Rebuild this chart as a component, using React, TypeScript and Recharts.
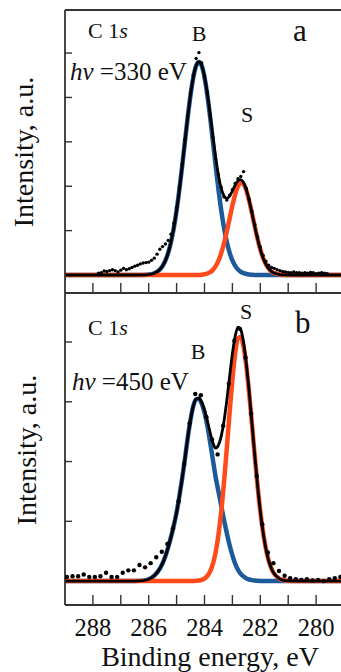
import React from 'react';
import { ComposedChart, Line, Scatter, XAxis, YAxis, ReferenceLine } from 'recharts';

// binding energy grid (eV) of the fitted curves, high -> low
const energies = [
  289.0, 288.5, 288.0, 287.5, 287.0, 286.5, 286.2, 286.0, 285.8, 285.6,
  285.5, 285.4, 285.3, 285.2, 285.1, 285.0, 284.9, 284.8, 284.7, 284.6,
  284.5, 284.4, 284.3, 284.2, 284.1, 284.0, 283.9, 283.8, 283.7, 283.6,
  283.5, 283.4, 283.3, 283.2, 283.1, 283.0, 282.9, 282.8, 282.7, 282.6,
  282.5, 282.4, 282.3, 282.2, 282.1, 282.0, 281.9, 281.8, 281.7, 281.6,
  281.5, 281.3, 281.1, 280.9, 280.6, 280.3, 280.0, 279.5, 279.0,
];

// panel a, hv = 330 eV
const bulkA = [
  0, 0, 0, 0, 0, 0, 0.003, 0.011, 0.041, 0.125,
  0.206, 0.328, 0.504, 0.745, 1.062, 1.457, 1.927, 2.455, 3.013, 3.563,
  4.059, 4.455, 4.712, 4.8, 4.712, 4.455, 4.059, 3.563, 3.013, 2.455,
  1.927, 1.457, 1.062, 0.745, 0.504, 0.328, 0.206, 0.125, 0.073, 0.041,
  0.022, 0.011, 0.006, 0.003, 0.001, 0, 0, 0, 0, 0,
  0, 0, 0, 0, 0, 0, 0, 0, 0,
];
const surfA = [
  0, 0, 0, 0, 0, 0, 0, 0, 0, 0,
  0, 0, 0, 0, 0, 0, 0, 0, 0, 0,
  0, 0, 0.001, 0.003, 0.008, 0.017, 0.034, 0.064, 0.116, 0.199,
  0.323, 0.494, 0.717, 0.983, 1.275, 1.566, 1.819, 1.999, 2.078, 2.043,
  1.901, 1.674, 1.394, 1.098, 0.818, 0.577, 0.385, 0.243, 0.145, 0.082,
  0.044, 0.011, 0.002, 0, 0, 0, 0, 0, 0,
];
const fitA = [
  0, 0, 0, 0, 0, 0, 0.003, 0.011, 0.041, 0.125,
  0.206, 0.328, 0.504, 0.745, 1.062, 1.457, 1.927, 2.455, 3.013, 3.563,
  4.059, 4.455, 4.713, 4.803, 4.72, 4.472, 4.093, 3.627, 3.129, 2.654,
  2.25, 1.951, 1.779, 1.728, 1.779, 1.894, 2.025, 2.124, 2.151, 2.084,
  1.923, 1.685, 1.4, 1.101, 0.819, 0.577, 0.385, 0.243, 0.145, 0.082,
  0.044, 0.011, 0.002, 0, 0, 0, 0, 0, 0,
];
const dotEnergyA = [
  287.8, 287.7, 287.6, 287.5, 287.4, 287.3, 287.2, 287.1, 287.0, 286.9,
  286.8, 286.7, 286.6, 286.5, 286.4, 286.3, 286.2, 286.1, 286.0, 285.9,
  285.8, 285.7, 285.6, 285.5, 285.4, 285.3, 285.2, 285.1, 285.0, 284.9,
  284.8, 284.7, 284.6, 284.5, 284.4, 284.3, 284.2, 284.1, 284.0, 283.9,
  283.8, 283.7, 283.6, 283.5, 283.4, 283.3, 283.2, 283.1, 283.0, 282.9,
  282.8, 282.7, 282.6, 282.5, 282.4, 282.3, 282.2, 282.1, 282.0, 281.9,
  281.8, 281.7, 281.6, 281.5, 281.4, 281.3, 281.2, 281.1, 281.0, 280.9,
  280.8, 280.7, 280.6, 280.5, 280.4, 280.3, 280.2, 280.1, 280.0, 279.9,
  279.8, 279.7, 279.6,
];
const dotValueA = [
  0.04, 0.05, 0.09, 0.08, 0.1, 0.12, 0.1, 0.07, 0.11, 0.15,
  0.12, 0.14, 0.17, 0.2, 0.22, 0.25, 0.27, 0.28, 0.29, 0.33,
  0.38, 0.47, 0.58, 0.64, 0.7, 0.78, 0.92, 1.16, 1.52, 1.97,
  2.49, 3.05, 3.58, 4.1, 4.5, 4.88, 5.01, 4.78, 4.49, 4.12,
  3.6, 3.1, 2.62, 2.26, 1.98, 1.76, 1.69, 1.8, 1.92, 2.06,
  2.17, 2.22, 2.33, 1.95, 1.7, 1.43, 1.14, 0.86, 0.63, 0.44,
  0.31, 0.22, 0.17, 0.15, 0.12, 0.1, 0.08, 0.07, 0.06, 0.05,
  0.07, 0.05, 0.05, 0.04, 0.05, 0.04, 0.06, 0.05, 0.03, 0.04,
  0.05, 0.04, 0.03,
];

// panel b, hv = 450 eV
const bulkB = [
  0, 0, 0, 0, 0, 0, 0.008, 0.03, 0.09, 0.21,
  0.3, 0.42, 0.57, 0.74, 0.93, 1.15, 1.42, 1.72, 2.05, 2.4,
  2.7, 2.93, 3.04, 3.05, 2.97, 2.82, 2.6, 2.33, 2.03, 1.74,
  1.5, 1.26, 1.02, 0.8, 0.6, 0.43, 0.29, 0.19, 0.12, 0.075,
  0.045, 0.027, 0.016, 0.009, 0.005, 0.003, 0.002, 0.001, 0, 0,
  0, 0, 0, 0, 0, 0, 0, 0, 0,
];
const surfB = [
  0, 0, 0, 0, 0, 0, 0, 0, 0, 0,
  0, 0, 0, 0, 0, 0, 0, 0, 0, 0,
  0, 0.001, 0.004, 0.009, 0.02, 0.042, 0.085, 0.16, 0.287, 0.485,
  0.774, 1.166, 1.659, 2.226, 2.821, 3.373, 3.808, 4.058, 4.085, 3.92,
  3.592, 3.146, 2.631, 2.102, 1.604, 1.169, 0.814, 0.541, 0.344, 0.209,
  0.121, 0.036, 0.009, 0.002, 0, 0, 0, 0, 0,
];
const fitB = [
  0, 0, 0, 0, 0, 0, 0.008, 0.03, 0.09, 0.21,
  0.3, 0.42, 0.57, 0.74, 0.93, 1.15, 1.42, 1.72, 2.05, 2.4,
  2.7, 2.931, 3.044, 3.059, 2.99, 2.862, 2.685, 2.49, 2.317, 2.225,
  2.274, 2.426, 2.679, 3.026, 3.421, 3.803, 4.098, 4.248, 4.205, 3.995,
  3.637, 3.173, 2.647, 2.111, 1.609, 1.172, 0.816, 0.542, 0.344, 0.209,
  0.121, 0.036, 0.009, 0.002, 0, 0, 0, 0, 0,
];
const dotEnergyB = [
  288.93, 288.73, 288.53, 288.33, 288.13, 287.93, 287.73, 287.53, 287.33, 287.13,
  286.93, 286.73, 286.53, 286.33, 286.13, 285.93, 285.73, 285.53, 285.33, 285.13,
  284.93, 284.73, 284.53, 284.33, 284.13, 283.93, 283.73, 283.53, 283.33, 283.13,
  282.93, 282.73, 282.53, 282.33, 282.13, 281.93, 281.73, 281.53, 281.33, 281.13,
  280.93, 280.73, 280.53, 280.33, 280.13, 279.93, 279.73, 279.53, 279.33, 279.13,
];
const dotValueB = [
  0.07, 0.08, 0.08, 0.11, 0.07, 0.07, 0.08, 0.14, 0.07, 0.07,
  0.14, 0.18, 0.18, 0.27, 0.23, 0.3, 0.4, 0.49, 0.62, 0.88,
  1.33, 1.96, 2.64, 3.13, 3.11, 2.74, 2.37, 2.12, 2.6, 3.3,
  4.02, 4.22, 3.74, 2.8, 1.76, 0.95, 0.48, 0.3, 0.17, 0.09,
  0.05, 0.03, 0.02, 0.03, 0.01, 0.02, 0, 0.03, 0.05, 0.07,
];

const xTicks = [288, 287, 286, 285, 284, 283, 282, 281, 280];
const xDomain = [279, 289];
const yDomainA = [-0.405, 5.97];
const yDomainB = [-0.4, 4.82];

const serif = "'Liberation Serif', 'Times New Roman', serif";
const axisColor = '#333';
const blue = '#1d5a9a';
const red = '#ff4a1c';

const curvesA = energies.map((e, i) => ({ e, bulk: bulkA[i], surf: surfA[i], fit: fitA[i] }));
const curvesB = energies.map((e, i) => ({ e, bulk: bulkB[i], surf: surfB[i], fit: fitB[i] }));
const dotsA = dotEnergyA.map((e, i) => ({ e, v: dotValueA[i] }));
const dotsB = dotEnergyB.map((e, i) => ({ e, v: dotValueB[i] }));

const BottomTick = (props: any) => {
  const { x, y, payload, withLabels } = props;
  return (
    <g>
      <line x1={x} x2={x} y1={y} y2={y - 10} stroke={axisColor} strokeWidth={1.4} />
      {withLabels && payload.value % 2 === 0 && (
        <text x={x} y={y + 31} textAnchor="middle" fontSize={24.5} fill="#111" fontFamily={serif}>
          {payload.value}
        </text>
      )}
    </g>
  );
};

const LeftTick = (props: any) => {
  const { x, y } = props;
  return <line x1={x} x2={x + 7} y1={y} y2={y} stroke={axisColor} strokeWidth={1.4} />;
};

const Dot = (r: number) => (props: any) => <circle cx={props.cx} cy={props.cy} r={r} fill="#000" />;

const Panel = ({ curves, dots, yDomain, yTicks, height, xHeight, withLabels, dotR, top }: any) => (
  <ComposedChart width={346} height={height} margin={{ top: 10, right: 2, bottom: 0, left: 5 }}>
    <XAxis
      type="number"
      dataKey="e"
      domain={xDomain}
      reversed
      allowDataOverflow
      ticks={xTicks}
      interval={0}
      height={xHeight}
      tickSize={0}
      tickMargin={0}
      tickLine={false}
      axisLine={{ stroke: axisColor, strokeWidth: 1.8 }}
      tick={(p: any) => <BottomTick {...p} withLabels={withLabels} />}
    />
    <YAxis
      type="number"
      domain={yDomain}
      allowDataOverflow
      ticks={yTicks}
      interval={0}
      width={60}
      tickSize={0}
      tickMargin={0}
      tickLine={false}
      axisLine={{ stroke: axisColor, strokeWidth: 1.8 }}
      tick={LeftTick}
    />
    {top && <ReferenceLine y={yDomain[1]} stroke={axisColor} strokeWidth={1.8} />}
    <Line data={curves} dataKey="bulk" type="monotone" stroke={blue} strokeWidth={4.5} dot={false} activeDot={false} isAnimationActive={false} />
    <Line data={curves} dataKey="surf" type="monotone" stroke={red} strokeWidth={4.5} dot={false} activeDot={false} isAnimationActive={false} />
    <Line data={curves} dataKey="fit" type="monotone" stroke="#000" strokeWidth={2.8} dot={false} activeDot={false} isAnimationActive={false} />
    <Scatter data={dots} dataKey="v" shape={Dot(dotR)} isAnimationActive={false} />
  </ComposedChart>
);

export default function App() {
  return (
    <div style={{ position: 'absolute', left: 0, top: 0, width: 341, height: 672, overflow: 'hidden', background: '#fff' }}>
      <div style={{ position: 'absolute', left: 0, top: 0 }}>
        <Panel curves={curvesA} dots={dotsA} yDomain={yDomainA} yTicks={[1, 2, 3, 4, 5]} height={294} xHeight={1} withLabels={false} dotR={1.7} top />
      </div>
      <div style={{ position: 'absolute', left: 0, top: 283 }}>
        <Panel curves={curvesB} dots={dotsB} yDomain={yDomainB} yTicks={[1, 2, 3, 4]} height={389} xHeight={67} withLabels dotR={2.2} top={false} />
      </div>
      <svg width={341} height={672} style={{ position: 'absolute', left: 0, top: 0, pointerEvents: 'none' }} fontFamily={serif} fill="#111">
        <text x={88} y={38} fontSize={22}>C 1<tspan fontStyle="italic">s</tspan></text>
        <text x={199} y={41} fontSize={22} textAnchor="middle">B</text>
        <text x={293} y={41} fontSize={31}>a</text>
        <text x={70} y={80} fontSize={25}><tspan fontStyle="italic">hv</tspan> =330 eV</text>
        <text x={247} y={122} fontSize={22} textAnchor="middle">S</text>

        <text x={88} y={335} fontSize={22}>C 1<tspan fontStyle="italic">s</tspan></text>
        <text x={246} y={319} fontSize={22} textAnchor="middle">S</text>
        <text x={295} y={333} fontSize={31}>b</text>
        <text x={198} y={359} fontSize={22} textAnchor="middle">B</text>
        <text x={72} y={390} fontSize={25}><tspan fontStyle="italic">hv</tspan> =450 eV</text>

        <text transform="rotate(-90 33 152)" x={33} y={152} fontSize={28} textAnchor="middle">Intensity, a.u.</text>
        <text transform="rotate(-90 36 450)" x={36} y={450} fontSize={28} textAnchor="middle">Intensity, a.u.</text>
        <text x={210} y={666} fontSize={28} textAnchor="middle">Binding energy, eV</text>
      </svg>
    </div>
  );
}
